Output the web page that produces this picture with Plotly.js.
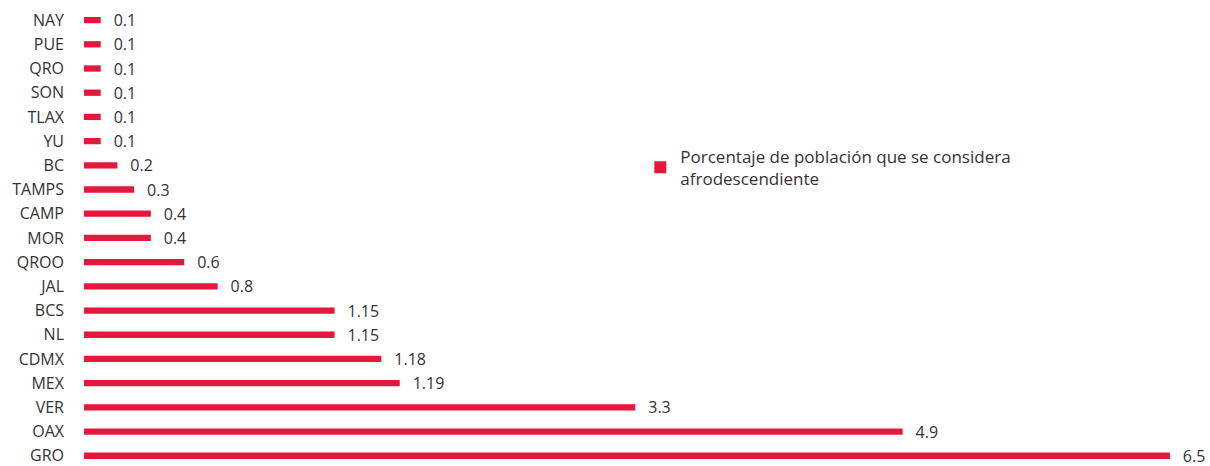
<!DOCTYPE html>
<html>
<head>
<meta charset="utf-8">
<script src="https://cdn.plot.ly/plotly-3.0.1.min.js"></script>
<style>html,body{margin:0;padding:0;background:#fff;}#chart{width:1210px;height:466px;}</style>
</head>
<body>
<div id="chart"></div>
<script>
const states = ["NAY","PUE","QRO","SON","TLAX","YU","BC","TAMPS","CAMP","MOR","QROO","JAL","BCS","NL","CDMX","MEX","VER","OAX","GRO"];
// bar lengths as drawn in the reference
const values = [0.1,0.1,0.1,0.1,0.1,0.1,0.2,0.3,0.4,0.4,0.6,0.8,1.5,1.5,1.78,1.89,3.3,4.9,6.5];
// value labels as printed in the reference
const valueLabels = ["0.1","0.1","0.1","0.1","0.1","0.1","0.2","0.3","0.4","0.4","0.6","0.8","1.15","1.15","1.18","1.19","3.3","4.9","6.5"];
const seriesName = "Porcentaje de población que se considera<br>afrodescendiente";

const trace = {
  type: "bar",
  orientation: "h",
  x: values,
  y: states,
  name: seriesName,
  marker: {color: "#e6173d"},
  width: 0.26,
  text: valueLabels.map(t => "\u00a0\u00a0\u200a" + t),
  textposition: "outside",
  constraintext: "none",
  cliponaxis: false,
  textfont: {family: "Open Sans, sans-serif", size: 16, color: "#333333"},
  hoverinfo: "x+y"
};

const layout = {
  width: 1210,
  height: 466,
  margin: {l: 84, r: 20, t: 8, b: 3},
  paper_bgcolor: "#ffffff",
  plot_bgcolor: "#ffffff",
  font: {family: "Open Sans, sans-serif", size: 16, color: "#333333"},
  showlegend: true,
  legend: {
    x: 0.503, y: 0.713, xanchor: "left", yanchor: "top",
    font: {size: 17, color: "#333333"},
    bgcolor: "rgba(0,0,0,0)"
  },
  xaxis: {
    range: [0, 6.62],
    visible: false,
    showgrid: false,
    zeroline: false
  },
  yaxis: {
    type: "category",
    categoryorder: "array",
    categoryarray: states,
    range: [18.3, -0.5],
    showgrid: false,
    zeroline: false,
    showline: false,
    ticks: "",
    ticklabelstandoff: 19,
    tickfont: {size: 16, color: "#333333"}
  }
};

Plotly.newPlot("chart", [trace], layout, {displayModeBar: false, staticPlot: true});
</script>
</body>
</html>
